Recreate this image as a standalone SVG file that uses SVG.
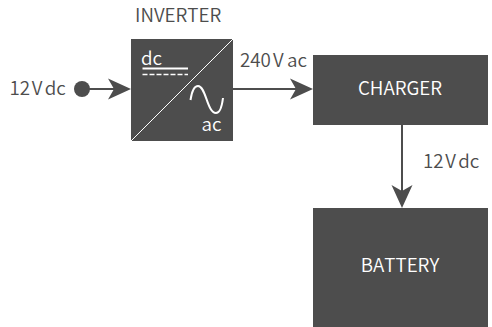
<svg xmlns="http://www.w3.org/2000/svg" width="492" height="327" viewBox="0 0 492 327">
<style>
text{font-family:"Noto Sans CJK JP","Noto Sans",sans-serif;font-size:18.800px;font-kerning:none;font-weight:350}
.d{fill:#4d4d4d}
.l{fill:#4d4d4d}
.w{fill:#fff}
.c{stroke:#4d4d4d;stroke-width:2;fill:none}
.i{stroke:#fff;fill:none}
</style>
<defs>
<path id="h" d="M-23-10.500L0 0L-23 10.500L-17 0Z" fill="#4d4d4d"/>
</defs>
<g id="connectors">
<path class="c" d="M82 89H125"/>
<use href="#h" transform="translate(131,89)"/>
<path class="c" d="M233 89H307"/>
<use href="#h" transform="translate(313,89)"/>
<path class="c" d="M402 125V202"/>
<use href="#h" transform="translate(402,208) rotate(90) "/>
<text class="l" x="423" y="168">12<tspan dx="1.500">V</tspan><tspan dx="2.500">dc</tspan></text>
<text class="l" x="240" y="67">240<tspan dx="2">V</tspan><tspan dx="3.500">ac</tspan></text>
</g>
<g id="source">
<circle class="d" cx="82" cy="89" r="8"/>
<text class="l" x="9.500" y="95">12<tspan dx="1.500">V</tspan><tspan dx="2.500">dc</tspan></text>
</g>
<g id="inverter">
<text class="l" x="135" y="22">INVERTER</text>
<rect class="d" x="131" y="39" width="102" height="102"/>
<path class="i" d="M131 141L233 39"/>
<text class="w" x="141" y="64.500">dc</text>
<path class="i" stroke-width="2" d="M142.500 68.500H188"/>
<path class="i" stroke-width="1.500" stroke-dasharray="5 2" d="M142.500 74.500H188"/>
<path class="i" stroke-width="2" d="M190.500 100C192 90 195 86 198 86C206 86 207 113 216 113C220 113 222 106 223 98"/>
<text class="w" x="201.500" y="131">ac</text>
</g>
<g id="charger">
<rect class="d" x="313" y="55" width="175" height="70"/>
<text class="w" x="400" y="95" text-anchor="middle">CHARGER</text>
</g>
<g id="battery">
<rect class="d" x="313" y="208" width="175" height="119"/>
<text class="w" x="400" y="272" text-anchor="middle">BATTERY</text>
</g>
</svg>
